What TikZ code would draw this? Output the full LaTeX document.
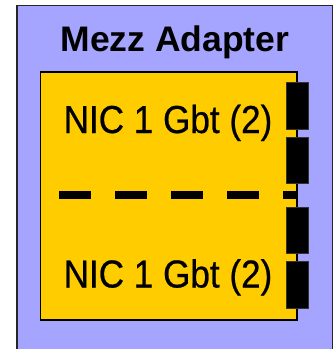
\documentclass[tikz,border=0pt]{standalone}
\usepackage{fontspec}
\setmainfont{Liberation Sans}
\newfontfamily\narrowfont[FakeStretch=0.9,FakeBold=0.6]{Liberation Sans}
\definecolor{adapterblue}{HTML}{A5A5FF}
\definecolor{nicyellow}{HTML}{FFCC00}
\begin{document}
\begin{tikzpicture}[x=1pt,y=-1pt,
  adapterbox/.style={draw=black!85,line width=1.6pt,fill=adapterblue,inner sep=0pt,outer sep=0pt},
  nicbox/.style={draw=black,line width=1.6pt,fill=nicyellow,inner sep=0pt,outer sep=0pt},
  portbox/.style={draw=black!80,line width=0.6pt,fill=black,inner sep=0pt,outer sep=0pt,
    minimum width=22pt,minimum height=46.5pt},
  title/.style={font=\bfseries\fontsize{35.5}{35.5}\selectfont,inner sep=0pt,anchor=base},
  niclabel/.style={font=\narrowfont\fontsize{39}{39}\selectfont,inner sep=0pt,anchor=base},
  splitline/.style={line width=8.5pt,dash pattern=on 32pt off 24pt,black}]
  \useasboundingbox (0,0) rectangle (335,349);
  \clip (0,0) rectangle (335,349);
  % adapter card, running off the lower edge
  \node[adapterbox,minimum width=315.5pt,minimum height=365pt,anchor=north west] (adapter) at (17,5.5) {};
  \node[title] (name) at (175,51.7) {Mezz Adapter};
  % NIC area
  \node[nicbox,minimum width=256.5pt,minimum height=248pt,anchor=north west] (nic) at (40.5,72) {};
  \node[niclabel] (upper) at (168,133) {NIC 1 Gbt (2)};
  \node[niclabel] (lower) at (168,287.5) {NIC 1 Gbt (2)};
  % split between the two NICs
  \coordinate (splitL) at (59,195);
  \coordinate (splitR) at (295.5,195);
  \draw[splitline] (splitL) -- (splitR);
  % ports on the right edge
  \node[portbox,anchor=north west] (p1) at (286,82.5) {};
  \node[portbox,anchor=north west] (p2) at (286,137) {};
  \node[portbox,anchor=north west] (p3) at (286,207) {};
  \node[portbox,anchor=north west] (p4) at (286,261.5) {};
\end{tikzpicture}
\end{document}
